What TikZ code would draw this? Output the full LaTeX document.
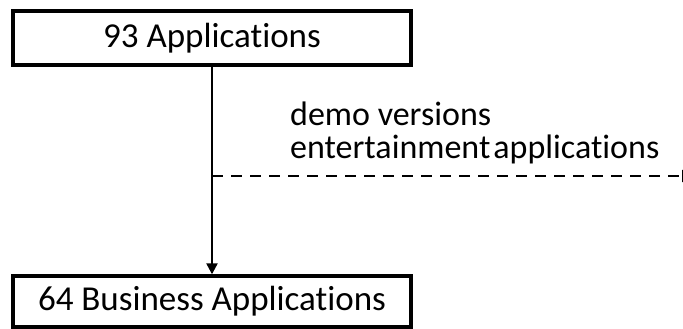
\documentclass[tikz,border=0pt]{standalone}
\usepackage{fontspec}
\setmainfont{Carlito}[Ligatures={NoCommon,NoRare,NoContextual}]
\usetikzlibrary{arrows.meta}
\begin{document}
\begin{tikzpicture}[x=1pt,y=-1pt,
  box/.style={draw, line width=3.4pt, minimum width=398pt, inner sep=0pt,
    font=\fontsize{35}{40}\selectfont},
  label/.style={inner sep=0pt, anchor=base west, font=\fontsize{34}{34}\selectfont},
  flow/.style={line width=2.3pt, -{Triangle[length=11pt,width=11pt]}},
  side/.style={line width=2.6pt, dash pattern=on 11pt off 8pt,
    -{Triangle[length=10pt,width=12pt]}}]
  \useasboundingbox (0,0) rectangle (683,329);
  \clip (0,0) rectangle (683,329);
  % the two boxes
  \node[box, minimum height=54pt] (apps) at (212,38) {93 Applications};
  \node[box, minimum height=51pt] (business) at (212,301.5) {64 Business Applications};
  % main flow
  \draw[flow] (apps) -- (business);
  % branch that leaves the flow
  \coordinate (branch) at (212,176);
  \coordinate (away) at (692,176);
  \draw[side] (branch) -- (away);
  \node[label] (demo) at (290,125) {demo versions};
  \node[label] (ent) at (290,158) {entertainment\hspace{3pt}applications};
\end{tikzpicture}
\end{document}
